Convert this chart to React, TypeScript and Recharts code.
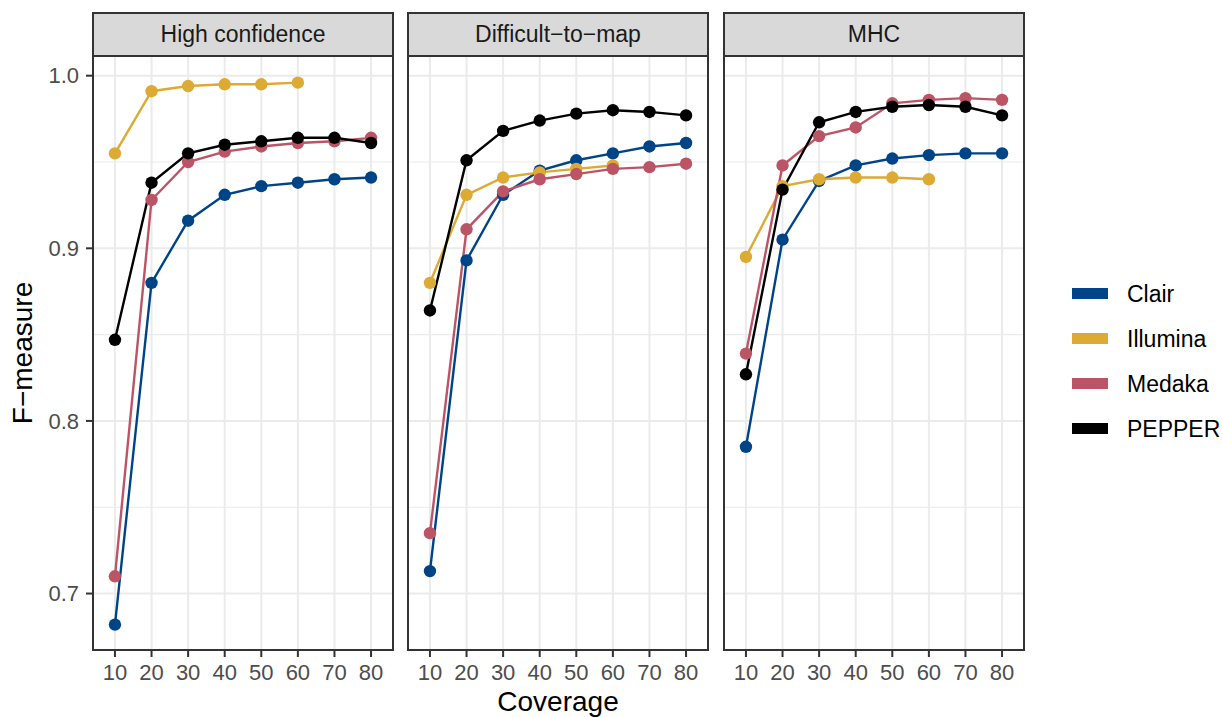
import React from 'react';
import { LineChart, Line, XAxis, YAxis, CartesianGrid } from 'recharts';

const coverage = [10, 20, 30, 40, 50, 60, 70, 80];
const panelTitles = ['High confidence', 'Difficult\u2212to\u2212map', 'MHC'];
const seriesNames = ['Clair', 'Illumina', 'Medaka', 'PEPPER'];
const seriesColors = ['#004488', '#DDAA33', '#BB5566', '#000000'];
const yTicks = [0.7, 0.8, 0.9, 1.0];
const yMinor = [0.75, 0.85, 0.95];

// High confidence
const clairHC = [0.682, 0.880, 0.916, 0.931, 0.936, 0.938, 0.940, 0.941];
const illuminaHC = [0.955, 0.991, 0.994, 0.995, 0.995, 0.996, null, null];
const medakaHC = [0.710, 0.928, 0.950, 0.956, 0.959, 0.961, 0.962, 0.964];
const pepperHC = [0.847, 0.938, 0.955, 0.960, 0.962, 0.964, 0.964, 0.961];

// Difficult-to-map
const clairD2M = [0.713, 0.893, 0.931, 0.945, 0.951, 0.955, 0.959, 0.961];
const illuminaD2M = [0.880, 0.931, 0.941, 0.944, 0.946, 0.948, null, null];
const medakaD2M = [0.735, 0.911, 0.933, 0.940, 0.943, 0.946, 0.947, 0.949];
const pepperD2M = [0.864, 0.951, 0.968, 0.974, 0.978, 0.980, 0.979, 0.977];

// MHC
const clairMHC = [0.785, 0.905, 0.939, 0.948, 0.952, 0.954, 0.955, 0.955];
const illuminaMHC = [0.895, 0.936, 0.940, 0.941, 0.941, 0.940, null, null];
const medakaMHC = [0.839, 0.948, 0.965, 0.970, 0.984, 0.986, 0.987, 0.986];
const pepperMHC = [0.827, 0.934, 0.973, 0.979, 0.982, 0.983, 0.982, 0.977];

const panelSeries = [
  [clairHC, illuminaHC, medakaHC, pepperHC],
  [clairD2M, illuminaD2M, medakaD2M, pepperD2M],
  [clairMHC, illuminaMHC, medakaMHC, pepperMHC],
];

const buildRows = (series: (number | null)[][]) =>
  coverage.map((c, i) => {
    const row: Record<string, number | null> = { coverage: c };
    seriesNames.forEach((n, k) => {
      row[n] = series[k][i];
    });
    return row;
  });

const FONT = '"Liberation Sans", Arial, Helvetica, sans-serif';
const PANEL_LEFTS = [93, 408, 724];
const PANEL_W = 300;
const PANEL_TOP = 56;
const PANEL_BOTTOM = 650;
const H = 717;
const X_AXIS_H = 30;

function Panel({ idx }: { idx: number }) {
  const rows = buildRows(panelSeries[idx]);
  const first = idx === 0;
  const left = first ? 0 : PANEL_LEFTS[idx];
  const width = first ? PANEL_LEFTS[0] + PANEL_W : PANEL_W;
  return (
    <div style={{ position: 'absolute', left, top: 0, width, height: H }}>
      <LineChart
        width={width}
        height={H}
        data={rows}
        margin={{ top: PANEL_TOP, right: 0, bottom: H - PANEL_BOTTOM - X_AXIS_H, left: 0 }}
      >
        <CartesianGrid
          stroke="#EBEBEB"
          strokeWidth={1.1}
          horizontalValues={yMinor}
          vertical={false}
        />
        <CartesianGrid
          stroke="#EBEBEB"
          strokeWidth={2}
          horizontalValues={yTicks}
          verticalValues={coverage}
        />
        <XAxis
          type="number"
          dataKey="coverage"
          domain={[4, 86]}
          ticks={coverage}
          interval={0}
          allowDataOverflow
          height={X_AXIS_H}
          axisLine={false}
          tickSize={7}
          tickMargin={7}
          tickLine={{ stroke: '#333333', strokeWidth: 2 }}
          tick={{ fill: '#4D4D4D', fontSize: 22, fontFamily: FONT }}
        />
        <YAxis
          type="number"
          domain={[0.6673, 1.0114]}
          ticks={yTicks}
          allowDataOverflow
          hide={!first}
          width={PANEL_LEFTS[0]}
          axisLine={false}
          tickSize={7}
          tickMargin={7}
          tickFormatter={(v: number) => v.toFixed(1)}
          tickLine={{ stroke: '#333333', strokeWidth: 2 }}
          tick={{ fill: '#4D4D4D', fontSize: 22, fontFamily: FONT }}
        />
        {seriesNames.map((n, k) => (
          <Line
            key={'l' + n}
            dataKey={n}
            stroke={seriesColors[k]}
            strokeWidth={2.4}
            dot={false}
            activeDot={false}
            isAnimationActive={false}
            type="linear"
          />
        ))}
        {seriesNames.map((n, k) => (
          <Line
            key={'p' + n}
            dataKey={n}
            stroke="none"
            dot={{ r: 6.2, fill: seriesColors[k], stroke: 'none' }}
            activeDot={false}
            isAnimationActive={false}
            type="linear"
          />
        ))}
      </LineChart>
      {/* panel border */}
      <div
        style={{
          position: 'absolute',
          left: PANEL_LEFTS[idx] - left - 1,
          top: PANEL_TOP - 1,
          width: PANEL_W + 2,
          height: PANEL_BOTTOM - PANEL_TOP + 2,
          border: '2px solid #333333',
          boxSizing: 'border-box',
          pointerEvents: 'none',
        }}
      />
      {/* strip */}
      <div
        style={{
          position: 'absolute',
          left: PANEL_LEFTS[idx] - left - 1,
          top: 12,
          width: PANEL_W + 2,
          height: PANEL_TOP - 12 + 1,
          border: '2px solid #333333',
          boxSizing: 'border-box',
          background: '#D9D9D9',
          color: '#1A1A1A',
          fontSize: 23,
          fontFamily: FONT,
          display: 'flex',
          alignItems: 'center',
          justifyContent: 'center',
        }}
      >
        {panelTitles[idx]}
      </div>
    </div>
  );
}

export default function App() {
  return (
    <div
      style={{
        position: 'absolute',
        left: 0,
        top: 0,
        width: 1222,
        height: H,
        background: '#FFFFFF',
        fontFamily: FONT,
        overflow: 'hidden',
      }}
    >
      {panelTitles.map((_, i) => (
        <Panel key={i} idx={i} />
      ))}
      {/* y axis title */}
      <div
        style={{
          position: 'absolute',
          left: 23 - 100,
          top: 353 - 14,
          width: 200,
          height: 28,
          lineHeight: '28px',
          fontSize: 28,
          color: '#000000',
          textAlign: 'center',
          transform: 'rotate(-90deg)',
          whiteSpace: 'nowrap',
        }}
      >
        F{'\u2212'}measure
      </div>
      {/* x axis title */}
      <div
        style={{
          position: 'absolute',
          left: 558 - 150,
          top: 688,
          width: 300,
          height: 28,
          lineHeight: '28px',
          fontSize: 28,
          color: '#000000',
          textAlign: 'center',
          whiteSpace: 'nowrap',
        }}
      >
        Coverage
      </div>
      {/* legend */}
      {seriesNames.map((n, k) => {
        const cy = 293.5 + k * 45;
        return (
          <React.Fragment key={n}>
            <div
              style={{
                position: 'absolute',
                left: 1072,
                top: cy - 5.5,
                width: 36,
                height: 11,
                background: seriesColors[k],
              }}
            />
            <div
              style={{
                position: 'absolute',
                left: 1127,
                top: cy - 14,
                height: 28,
                lineHeight: '28px',
                fontSize: 23,
                color: '#000000',
                whiteSpace: 'nowrap',
              }}
            >
              {n}
            </div>
          </React.Fragment>
        );
      })}
    </div>
  );
}
